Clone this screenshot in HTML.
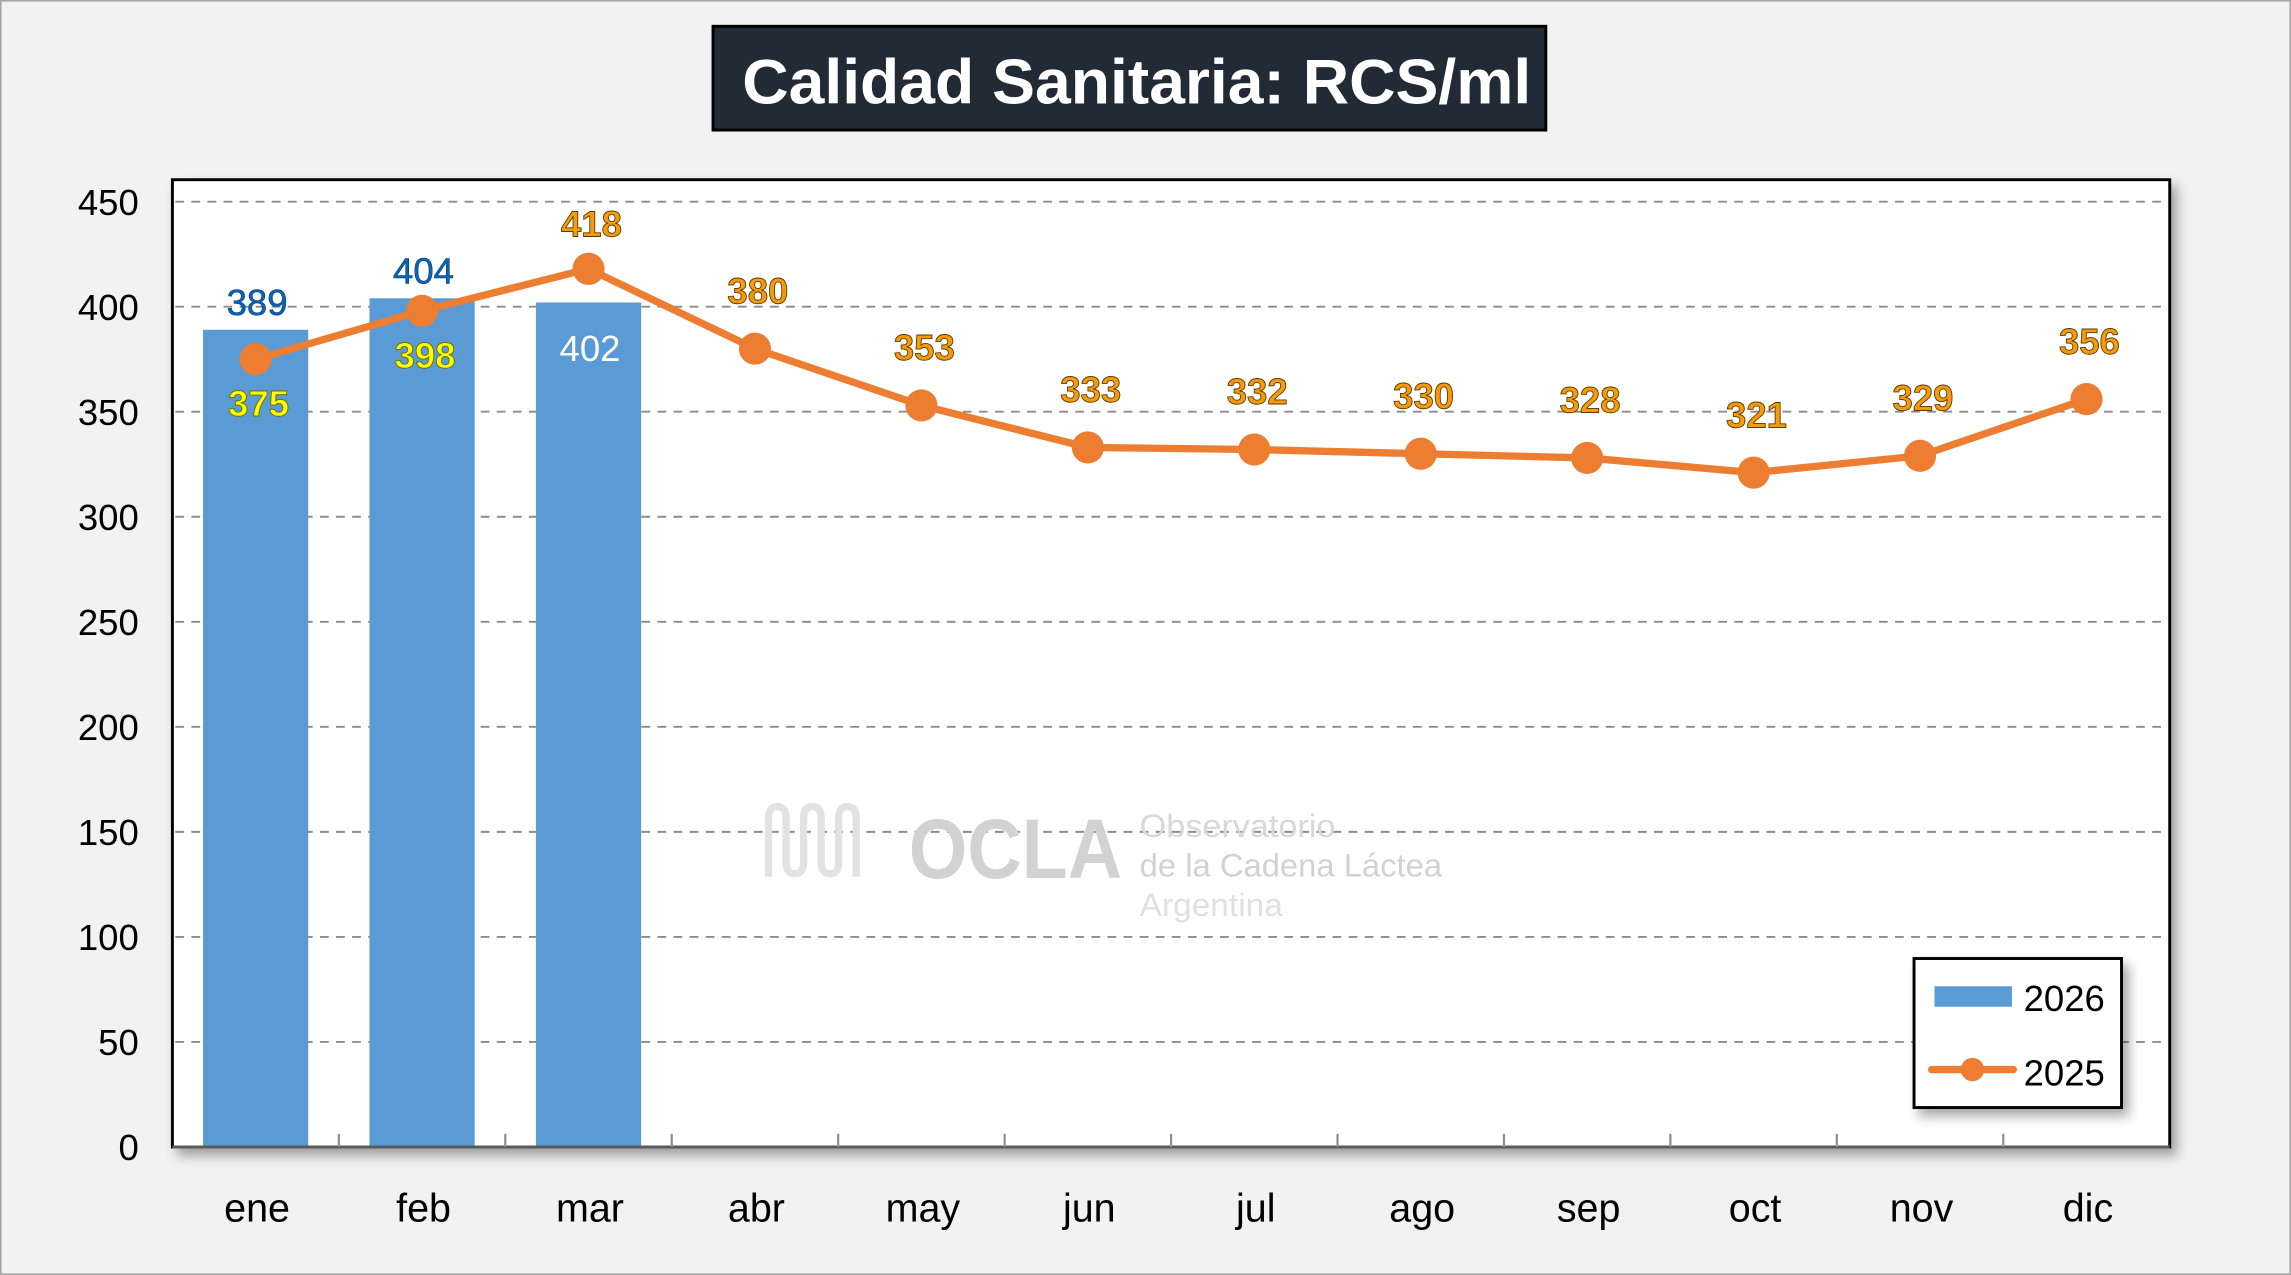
<!DOCTYPE html>
<html><head><meta charset="utf-8"><style>
html,body{margin:0;padding:0;background:#f2f2f2;}
svg{display:block;font-family:"Liberation Sans",sans-serif;}
</style></head><body>
<svg id="chart" width="2291" height="1275" viewBox="0 0 1568 872.6" preserveAspectRatio="none" xmlns="http://www.w3.org/2000/svg">
<defs>
<filter id="sh" x="-10%" y="-10%" width="130%" height="130%"><feDropShadow dx="4" dy="5" stdDeviation="4" flood-color="#000" flood-opacity="0.35"/></filter>
</defs>
<rect x="0.5" y="0.5" width="1567" height="871.6" fill="#f2f2f2" stroke="#a6a6a6" stroke-width="1.2"/>
<g>
<rect x="488" y="18" width="570" height="71" fill="#222a35" stroke="#000" stroke-width="2"/>
<text x="778" y="71" text-anchor="middle" fill="#fff" font-size="43" font-weight="bold" textLength="540" lengthAdjust="spacingAndGlyphs">Calidad Sanitaria: RCS/ml</text>
</g>
<rect x="118" y="123" width="1367" height="662" fill="#fff" stroke="#000" stroke-width="2" filter="url(#sh)"/>
<g id="grid"></g>
<g id="yaxis"></g>
<g id="watermark" fill="#d4d4d4">
<path d="M526 600 V560 q0-8 6-8 q6 0 6 8 v30 q0 8 6 8 q6 0 6-8 v-30 q0-8 6-8 q6 0 6 8 v30 q0 8 6 8 q6 0 6-8 v-30 q0-8 6-8 q6 0 6 8 V600" fill="none" stroke="#e2e2e2" stroke-width="5"/>
<text x="622" y="601" font-size="58" font-weight="bold" fill="#d2d2d2" textLength="146" lengthAdjust="spacingAndGlyphs">OCLA</text>
<text x="780" y="573" font-size="22" fill="#d8d8d8" textLength="134" lengthAdjust="spacingAndGlyphs">Observatorio</text>
<text x="780" y="600" font-size="22" fill="#d2d2d2" textLength="207" lengthAdjust="spacingAndGlyphs">de la Cadena Láctea</text>
<text x="780" y="627" font-size="22" fill="#e0e0e0" textLength="98" lengthAdjust="spacingAndGlyphs">Argentina</text>
</g>
<g id="bars"></g>
<g id="line"></g>
<g id="xaxis"></g>
<g>
<rect x="1310" y="656" width="142" height="102" fill="#fff" stroke="#000" stroke-width="2" filter="url(#sh)"/>
<rect x="1324" y="675" width="53" height="14" fill="#5b9bd5"/>
<text x="1385" y="692" font-size="25" fill="#000">2026</text>
<line x1="1322" y1="732" x2="1378" y2="732" stroke="#ed7d31" stroke-width="5" stroke-linecap="round"/>
<circle cx="1350" cy="732" r="8" fill="#ed7d31"/>
<text x="1385" y="743" font-size="25" fill="#000">2025</text>
</g>
</svg>
<script>
const categories = ["ene","feb","mar","abr","may","jun","jul","ago","sep","oct","nov","dic"];
const values2026 = [389, 404, 402];
const values2025 = [375, 398, 418, 380, 353, 333, 332, 330, 328, 321, 329, 356];
const yTicks = [0, 50, 100, 150, 200, 250, 300, 350, 400, 450];

const NS = "http://www.w3.org/2000/svg";
const PX0 = 118, PX1 = 1485, PY0 = 785, PY450 = 138;
const band = (PX1 - PX0) / categories.length;
function xScale(i){ return PX0 + (i + 0.5) * band; }
function yScale(v){ return PY0 - (v / 450) * (PY0 - PY450); }
function mk(tag, attrs, parent, text){
  const e = document.createElementNS(NS, tag);
  for (const k in attrs) e.setAttribute(k, attrs[k]);
  if (text !== undefined) e.textContent = text;
  parent.appendChild(e); return e;
}
const grid = document.getElementById('grid');
const yaxis = document.getElementById('yaxis');
yTicks.forEach(t => {
  const y = yScale(t);
  if (t > 0) {
    const l = mk('line', {x1: PX0+2, x2: PX1-2, y1: y, y2: y, stroke: '#8c8c8c', 'stroke-width': 1.3, 'stroke-dasharray': '6 5'}, grid);
    
    
  }
  const tx = mk('text', {x: 95, y: y + 9, 'text-anchor': 'end', 'font-size': 25, fill: '#000'}, yaxis, String(t));
  
  
});
const xaxis = document.getElementById('xaxis');
mk('line', {x1: PX0, x2: PX1, y1: PY0, y2: PY0, stroke: '#595959', 'stroke-width': 2}, xaxis);
for (let i = 1; i < categories.length; i++) {
  const x = PX0 + i * band;
  mk('line', {x1: x, x2: x, y1: PY0, y2: PY0 - 9, stroke: '#8c8c8c', 'stroke-width': 1.5}, xaxis);
}
categories.forEach((c, i) => {
  const t = mk('text', {x: xScale(i) + 1, y: 836, 'text-anchor': 'middle', 'font-size': 27, fill: '#000'}, xaxis, c);
  
  
});
const bars = document.getElementById('bars');
values2026.forEach((v, i) => {
  const x = xScale(i), y = yScale(v);
  const r = mk('rect', {x: x - 36, y: y, width: 72, height: PY0 - y, fill: '#5b9bd5'}, bars);
  
  
  const inside = i === 2;
  const lab = mk('text', {x: x + 1, y: inside ? y + 40 : y - 10, 'text-anchor': 'middle', 'font-size': 25,
    fill: inside ? '#fff' : '#0a64b4', stroke: inside ? 'none' : '#0a3a80', 'stroke-width': 0.4}, bars, String(v));
  
  
});
const line = document.getElementById('line');
const pts = values2025.map((v, i) => xScale(i) + ',' + yScale(v)).join(' ');
const pl = mk('polyline', {points: pts, fill: 'none', stroke: '#ed7d31', 'stroke-width': 5, 'stroke-linejoin': 'round'}, line);


values2025.forEach((v, i) => {
  const x = xScale(i), y = yScale(v);
  const c = mk('circle', {cx: x, cy: y, r: 11, fill: '#ed7d31'}, line);
  
  
  const below = i < 2;
  const ly = below ? y + 39 : Math.max(y - 31, 162);
  const lab = mk('text', {x: x + 2, y: ly, 'text-anchor': 'middle', 'font-size': 25, 'font-weight': 'bold',
    fill: below ? '#ffff00' : '#f59a0c', stroke: below ? '#6b6b00' : '#5a3a00', 'stroke-width': 0.6}, line, String(v));
  
  
});
</script>
</body></html>
